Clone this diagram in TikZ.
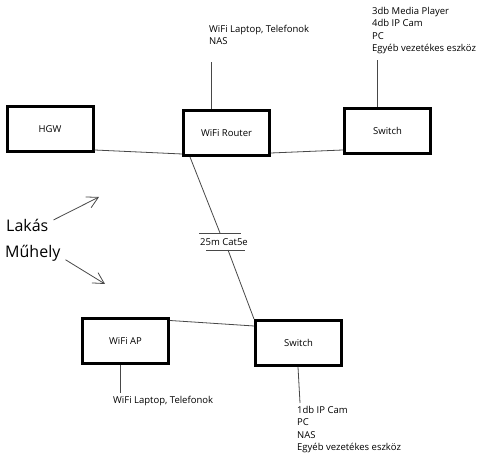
\documentclass[tikz,border=0pt]{standalone}
\usepackage{fontspec}
\setmainfont{Open Sans}
\usetikzlibrary{arrows.meta,positioning,calc}
\definecolor{Ink}{HTML}{1A1A1A}

\begin{document}
\begin{tikzpicture}[x=1pt,y=1pt,
  box/.style={draw=black,line width=3pt,minimum width=86pt,minimum height=45pt,font=\fontsize{9.5}{11}\selectfont},
  wire/.style={Ink!80,line width=0.8pt},
  note/.style={font=\fontsize{9.5}{12.5}\selectfont,align=left,inner sep=0pt},
  big/.style={font=\fontsize{16}{18}\selectfont,inner sep=0pt}]
\useasboundingbox (0,0) rectangle (480,462);
% boxes
\node[box] (hgw) at (50,333) {HGW};
\node[box] (router) at (226.5,329) {WiFi Router};
\node[box] (sw1) at (387.5,331) {Switch};
\node[box] (ap) at (125.5,120.5) {WiFi AP};
\node[box] (sw2) at (298.5,119) {Switch};
% wires between boxes
\draw[wire] ([yshift=3pt]hgw.south east) -- ([yshift=3pt]router.south west);
\draw[wire] ([yshift=4pt]router.south east) -- ([yshift=5pt]sw1.south west);
\draw[wire] ([yshift=-3pt]ap.north east) -- ([yshift=-7pt]sw2.north west);
% devices
\coordinate (rtop) at (211,400);
\coordinate (s1top) at (377,402);
\coordinate (apbot) at (120,69);
\coordinate (s2bot) at (300,59);
\draw[wire] (router.north -| rtop) -- (rtop);
\draw[wire] (sw1.north -| s1top) -- (s1top);
\draw[wire] (ap.south -| apbot) -- (apbot);
\draw[wire] ([xshift=-0.5pt]sw2.south) -- (s2bot);
\node[note,anchor=north west] (rdev) at (209,437) {WiFi Laptop, Telefonok\\NAS};
\node[note,anchor=north west] (s1dev) at (372,455) {3db Media Player\\4db IP Cam\\PC\\Egyéb vezetékes eszköz};
\node[note,anchor=north west] (apdev) at (113,66) {WiFi Laptop, Telefonok};
\node[note,anchor=north west] (s2dev) at (297,56) {1db IP Cam\\PC\\NAS\\Egyéb vezetékes eszköz};
% cable
\coordinate (ctop) at (220,229);
\coordinate (cbot) at (228,212);
\draw[wire] ([xshift=8pt]router.south west) -- (ctop);
\draw[wire] (cbot) -- (sw2.north west);
\draw[wire] ([xshift=-21pt]ctop) -- ([xshift=21pt]ctop);
\draw[wire] ([xshift=-22pt]cbot) -- ([xshift=17pt]cbot);
\node[font=\fontsize{9.5}{11}\selectfont] (cable) at (224,220) {25m Cat5e};
% zones
\node[big,anchor=base west] (lakas) at (6,230) {Lakás};
\node[big,anchor=base west] (muhely) at (5,204) {Műhely};
\coordinate (lakpt) at (99,265);
\coordinate (muhpt) at (105,178);
\draw[wire,-{Straight Barb[length=11pt,width=12pt]}] ([shift={(5pt,6pt)}]lakas.east) -- (lakpt);
\draw[wire,-{Straight Barb[length=11pt,width=12pt]}] ([shift={(5pt,-6pt)}]muhely.east) -- (muhpt);
\end{tikzpicture}
\end{document}
